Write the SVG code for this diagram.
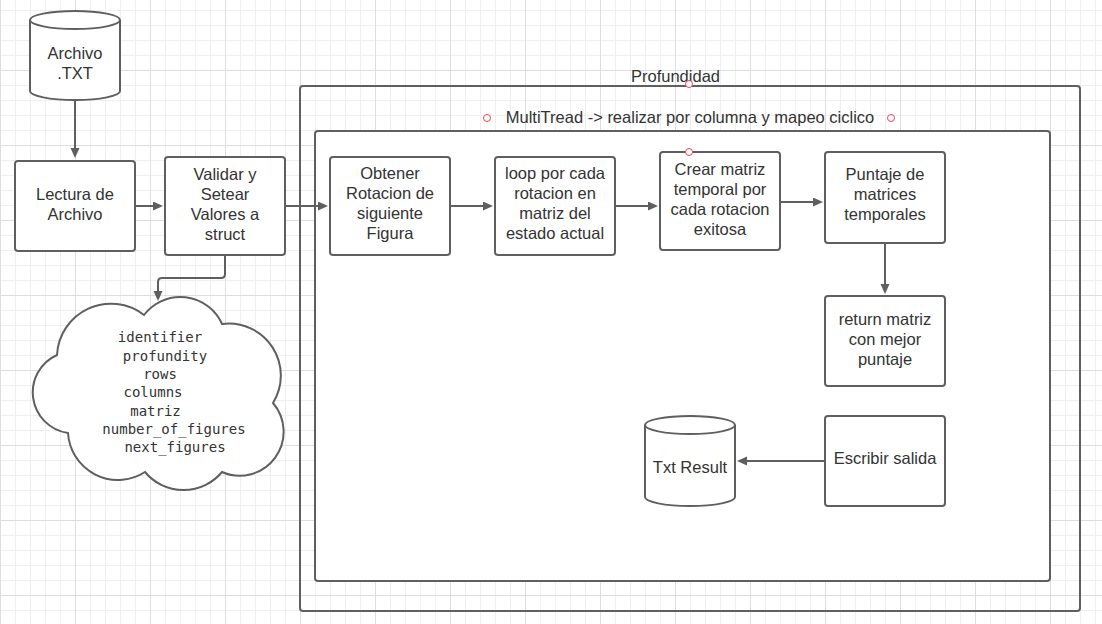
<svg xmlns="http://www.w3.org/2000/svg" width="1102" height="624" viewBox="0 0 1102 624">
<defs>
<pattern id="grid" patternUnits="userSpaceOnUse" x="0" y="70" width="75" height="75">
<rect width="75" height="75" fill="#ffffff"/>
<g fill="#efefef">
<rect x="15" y="0" width="1" height="75"/><rect x="30" y="0" width="1" height="75"/><rect x="45" y="0" width="1" height="75"/><rect x="60" y="0" width="1" height="75"/>
<rect x="0" y="15" width="75" height="1"/><rect x="0" y="30" width="75" height="1"/><rect x="0" y="45" width="75" height="1"/><rect x="0" y="60" width="75" height="1"/>
</g>
<g fill="#dedede"><rect x="0" y="0" width="1" height="75"/><rect x="0" y="0" width="75" height="1"/></g>
</pattern>
<marker id="arr" markerUnits="userSpaceOnUse" markerWidth="11" markerHeight="10" refX="8" refY="4.5" orient="auto">
<path d="M0,0 L10,4.5 L0,9 Z" fill="#5f5f5f"/>
</marker>
</defs>
<style>
.shape{fill:#ffffff;stroke:#5f5f5f;stroke-width:2}
.frame{fill:none;stroke:#5f5f5f;stroke-width:2}
.t{font-family:"Liberation Sans",Arial,sans-serif;font-size:16.5px;fill:#333333;text-anchor:middle}
.m{font-family:"DejaVu Sans Mono","Liberation Mono",monospace;font-size:14px;fill:#333333;text-anchor:middle}
.edge{fill:none;stroke:#5f5f5f;stroke-width:2;marker-end:url(#arr)}
.pt{fill:#ffffff;stroke:#e8455c;stroke-width:1}
</style>
<rect width="1102" height="624" fill="url(#grid)"/>

<g id="profundidad">
<rect class="frame" x="300" y="86" width="780" height="525" rx="3"/>
<text class="t" x="675.5" y="82">Profundidad</text>
</g>
<g id="multitread">
<rect class="shape" x="315" y="131" width="735" height="450" rx="3"/>
<text class="t" x="690" y="123">MultiTread -&gt; realizar por columna y mapeo ciclico</text>
</g>

<g id="archivo">
<path class="shape" d="M30,20 A45,9 0 0 1 120,20 V91 A45,9 0 0 1 30,91 Z"/>
<path class="frame" d="M30,20 A45,9 0 0 0 120,20"/>
<text class="t" x="75" y="59">Archivo</text>
<text class="t" x="75" y="79">.TXT</text>
</g>

<g id="lectura">
<rect class="shape" x="15" y="161" width="120" height="90" rx="3"/>
<text class="t" x="75" y="200">Lectura de</text>
<text class="t" x="75" y="220">Archivo</text>
</g>

<g id="validar">
<rect class="shape" x="165" y="157" width="120" height="98" rx="3"/>
<text class="t" x="225" y="180">Validar y</text>
<text class="t" x="225" y="200">Setear</text>
<text class="t" x="225" y="220">Valores a</text>
<text class="t" x="225" y="240">struct</text>
</g>

<g id="struct-cloud">
<path class="shape" d="M144,315 A45.6,45.6 0 0 1 222,324 A52,52 0 0 1 273,403 A44,44 0 0 1 222,472 A50,50 0 0 1 145,472 A50,50 0 0 1 68,433 A41,41 0 0 1 57,355 A54,54 0 0 1 144,315 Z"/>
<text class="m" x="160" y="342">identifier</text>
<text class="m" x="165" y="360.5">profundity</text>
<text class="m" x="160" y="378.5">rows</text>
<text class="m" x="153" y="397">columns</text>
<text class="m" x="155.5" y="415.5">matriz</text>
<text class="m" x="174" y="433.5">number_of_figures</text>
<text class="m" x="175" y="452">next_figures</text>
</g>

<g id="obtener">
<rect class="shape" x="330" y="157" width="120" height="98" rx="3"/>
<text class="t" x="390" y="179">Obtener</text>
<text class="t" x="390" y="199">Rotacion de</text>
<text class="t" x="390" y="219">siguiente</text>
<text class="t" x="390" y="239">Figura</text>
</g>

<g id="loop">
<rect class="shape" x="495" y="157" width="120" height="98" rx="3"/>
<text class="t" x="555" y="179">loop por cada</text>
<text class="t" x="555" y="199">rotacion en</text>
<text class="t" x="555" y="219">matriz del</text>
<text class="t" x="555" y="239">estado actual</text>
</g>

<g id="crear">
<rect class="shape" x="660" y="152" width="120" height="98" rx="3"/>
<text class="t" x="720" y="175">Crear matriz</text>
<text class="t" x="720" y="195">temporal por</text>
<text class="t" x="720" y="215">cada rotacion</text>
<text class="t" x="720" y="235">exitosa</text>
</g>

<g id="puntaje">
<rect class="shape" x="825" y="152" width="120" height="91" rx="3"/>
<text class="t" x="885" y="180">Puntaje de</text>
<text class="t" x="885" y="200">matrices</text>
<text class="t" x="885" y="220">temporales</text>
</g>

<g id="return">
<rect class="shape" x="825" y="296" width="120" height="90" rx="3"/>
<text class="t" x="885" y="325">return matriz</text>
<text class="t" x="885" y="345">con mejor</text>
<text class="t" x="885" y="365">puntaje</text>
</g>

<g id="escribir">
<rect class="shape" x="825" y="416" width="120" height="90" rx="3"/>
<text class="t" x="885" y="464">Escribir salida</text>
</g>

<g id="txt-result">
<path class="shape" d="M645,425 A45,9 0 0 1 735,425 V497 A45,9 0 0 1 645,497 Z"/>
<path class="frame" d="M645,425 A45,9 0 0 0 735,425"/>
<text class="t" x="690" y="473">Txt Result</text>
</g>

<g id="connectors">
<path class="edge" d="M75,100 V156"/>
<path class="edge" d="M135,206 H161"/>
<path class="edge" d="M285,206 H326"/>
<path class="edge" d="M450,206 H491"/>
<path class="edge" d="M615,206 H656"/>
<path class="edge" d="M780,202 H821"/>
<path class="edge" d="M885,243 V292"/>
<path class="edge" d="M825,461 H739"/>
<path class="edge" d="M225,255 V274 Q225,278 221,278 H162 Q158,278 158,282 V299"/>
</g>

<g id="points">
<circle class="pt" cx="689" cy="84" r="3.5"/>
<circle class="pt" cx="487" cy="118" r="3.5"/>
<circle class="pt" cx="891" cy="118" r="3.5"/>
<circle class="pt" cx="689" cy="152" r="3.5"/>
</g>
</svg>
